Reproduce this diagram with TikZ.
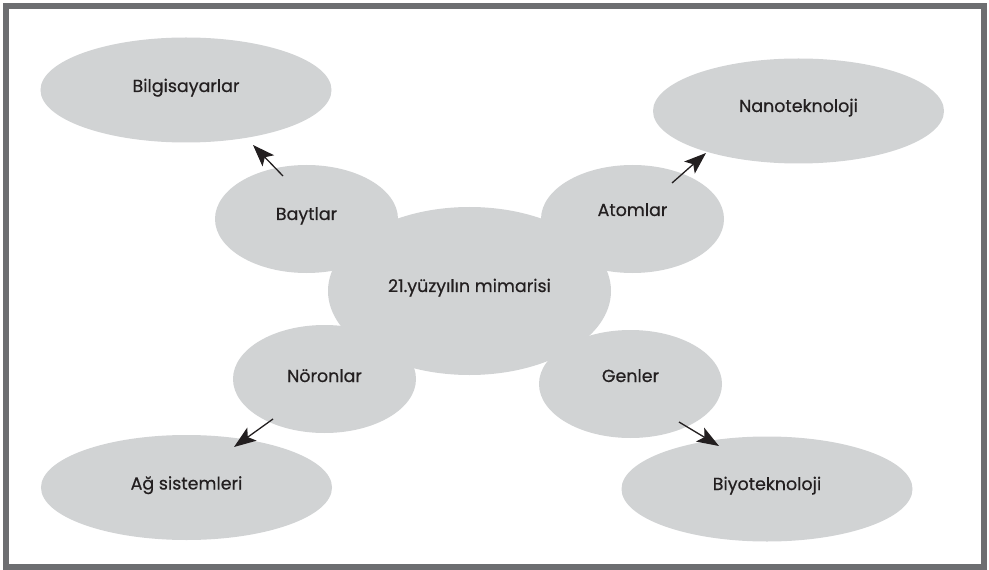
\documentclass[tikz,border=0pt]{standalone}
\usepackage{fontspec}
\setmainfont{Poppins}[FakeBold=0.5]
\usetikzlibrary{arrows.meta,calc,shapes.geometric}
\definecolor{BlobGray}{HTML}{D1D3D4}
\definecolor{FrameGray}{HTML}{6D6E71}
\definecolor{InkDark}{HTML}{231F20}

\begin{document}
\begin{tikzpicture}[
    x=1bp,y=-1bp,
    font=\fontsize{17.5}{20}\selectfont,
    blob/.style={ellipse,fill=BlobGray,inner sep=0pt,text=InkDark,text height=12bp,text depth=10bp},
    small/.style={blob,minimum width=183bp,minimum height=108bp},
    big/.style={blob,minimum width=291bp,minimum height=105bp},
    arr/.style={-{Stealth[length=22bp,width=16bp,inset=5bp]},line width=1.3bp,InkDark}
  ]
    \useasboundingbox (0,0) rectangle (989,570);
    \draw[FrameGray,line width=6bp] (6,6) rectangle (984,566.5);

    % middle blob first, the four round it
    \node[blob,minimum width=283bp,minimum height=168bp] (mid) at (469.5,291) {21.yüzyılın mimarisi};
    \node[small] (bayt) at (306.5,219) {Baytlar};
    \node[small,text depth=18bp] (atom) at (632.5,219) {Atomlar};
    \node[small,text depth=6bp] (noro) at (324.5,379) {Nöronlar};
    \node[small,text depth=16bp] (gen) at (630.5,384) {Genler};

    % outer blobs
    \node[big,text depth=8bp] (bilgi) at (186,90) {Bilgisayarlar};
    \node[big] (nano) at (798.5,111) {Nanoteknoloji};
    \node[big,text depth=8bp] (ag) at (186.5,487.5) {Ağ sistemleri};
    \node[big] (biyo) at (767,489) {Biyoteknoloji};

    \draw[arr] ($(bayt.center)+(-23.5,-43)$) -- ($(bilgi.center)+(67,55)$);
    \draw[arr] ($(atom.center)+(39.5,-36)$) -- ($(nano.center)+(-92.5,42)$);
    \draw[arr] ($(noro.center)+(-51.5,40)$) -- ($(ag.center)+(47.5,-40.5)$);
    \draw[arr] ($(gen.center)+(48.5,38)$) -- ($(biyo.center)+(-48,-43)$);
  \end{tikzpicture}
\end{document}
